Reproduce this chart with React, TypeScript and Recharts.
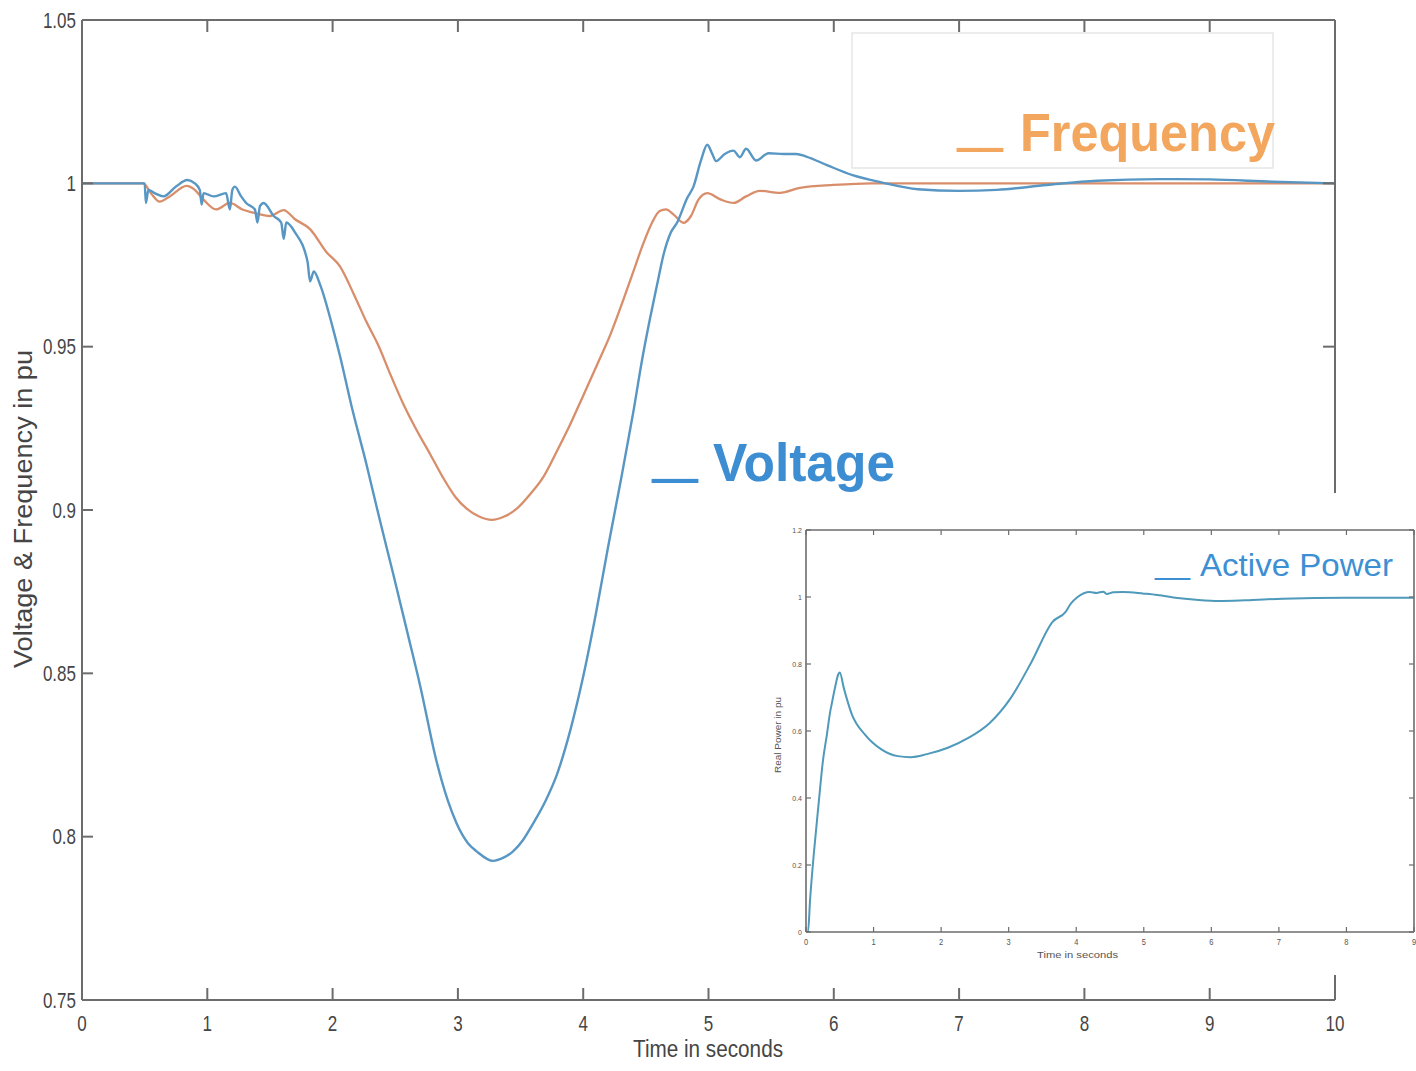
import React from 'react';
import { LineChart, Line, XAxis, YAxis } from 'recharts';

// ---------- data ----------
const voltageTime = [
  0, 0.5, 0.51, 0.53, 0.58, 0.65, 0.75, 0.84, 0.9, 0.94, 0.955, 0.97, 1.05, 1.15, 1.18, 1.2, 1.22, 1.27, 1.31,
  1.38, 1.4, 1.42, 1.45, 1.53, 1.59, 1.61, 1.63, 1.7, 1.8, 1.82, 1.85, 1.9, 2.0, 2.06, 2.15, 2.27, 2.37, 2.48,
  2.6, 2.7, 2.83, 2.92, 2.99, 3.08, 3.15, 3.28, 3.36, 3.44, 3.52, 3.6, 3.7, 3.79, 3.9, 4.0, 4.1, 4.2, 4.3, 4.4,
  4.47, 4.53, 4.59, 4.64, 4.7, 4.75, 4.83, 4.88, 4.94, 4.99, 5.03, 5.06, 5.13, 5.2, 5.25, 5.3, 5.38, 5.48, 5.6,
  5.7, 5.78, 5.95, 6.15, 6.38, 6.67, 7.0, 7.3, 7.7, 8.1, 8.6, 9.0, 9.5, 10,
];
const voltageValues = [
  1.0, 1.0, 0.994, 0.998, 0.997, 0.996, 0.999, 1.001, 1.0, 0.998, 0.9935, 0.997, 0.996, 0.997, 0.992, 0.998,
  0.999, 0.996, 0.994, 0.992, 0.988, 0.993, 0.994, 0.99, 0.988, 0.983, 0.988, 0.985, 0.976, 0.97, 0.973, 0.969,
  0.956, 0.947, 0.932, 0.914, 0.898, 0.881, 0.862, 0.846, 0.823, 0.811, 0.804, 0.798, 0.7955, 0.7926, 0.7935,
  0.7955, 0.799, 0.804, 0.811, 0.819, 0.833, 0.849, 0.868, 0.889, 0.909, 0.93, 0.946, 0.958, 0.969, 0.978, 0.985,
  0.988, 0.9955, 0.999, 1.007, 1.0118, 1.009, 1.0068, 1.009, 1.01, 1.008, 1.0106, 1.007, 1.0092, 1.009, 1.009,
  1.0082, 1.0055, 1.0025, 1.0003, 0.9982, 0.9977, 0.998, 0.9995, 1.0008, 1.0013, 1.0012, 1.0005, 1.0,
];

const frequencyTime = [
  0, 0.49, 0.55, 0.62, 0.7, 0.835, 0.9, 0.97, 1.07, 1.18, 1.28, 1.37, 1.5, 1.61, 1.7, 1.82, 1.95, 2.06, 2.17,
  2.27, 2.37, 2.46, 2.57, 2.67, 2.78, 2.88, 2.98, 3.07, 3.17, 3.27, 3.37, 3.47, 3.58, 3.68, 3.79, 3.89, 4.0,
  4.11, 4.22, 4.32, 4.4, 4.48, 4.55, 4.61, 4.66, 4.72, 4.8, 4.86, 4.92, 4.99, 5.1, 5.2, 5.3, 5.41, 5.57, 5.73,
  6.0, 6.3, 7, 10,
];
const frequencyValues = [
  1.0, 1.0, 0.997, 0.9944, 0.996, 0.9992, 0.998, 0.995, 0.992, 0.994, 0.992, 0.991, 0.99, 0.9918, 0.989, 0.986,
  0.979, 0.9745, 0.966, 0.9576, 0.95, 0.9416, 0.932, 0.9245, 0.917, 0.91, 0.904, 0.9004, 0.898, 0.897, 0.898,
  0.9004, 0.905, 0.91, 0.918, 0.9257, 0.935, 0.9444, 0.954, 0.9643, 0.973, 0.9816, 0.988, 0.9915, 0.992, 0.9905,
  0.9879, 0.99, 0.995, 0.997, 0.995, 0.994, 0.996, 0.9977, 0.9971, 0.9986, 0.9995, 1.0, 1.0, 1.0,
];

const powerTime = [
  0, 0.03, 0.06, 0.12, 0.19, 0.25, 0.31, 0.36, 0.38, 0.43, 0.48, 0.5, 0.56, 0.68, 0.87, 1.11, 1.36, 1.55, 1.79,
  2.1, 2.41, 2.72, 3.03, 3.34, 3.65, 3.84, 3.92, 4.02, 4.2, 4.3, 4.4, 4.45, 4.55, 4.7, 5.0, 5.2, 5.5, 5.81, 6.12,
  6.5, 7.06, 8.0, 9.0,
];
const powerValues = [
  0, 0, 0.095, 0.243, 0.39, 0.51, 0.59, 0.66, 0.68, 0.73, 0.77, 0.775, 0.728, 0.649, 0.59, 0.546, 0.525, 0.522,
  0.531, 0.55, 0.58, 0.624, 0.698, 0.807, 0.926, 0.955, 0.98, 1.0, 1.015, 1.012, 1.016, 1.009, 1.014, 1.015,
  1.01, 1.006, 0.997, 0.991, 0.988, 0.99, 0.995, 0.998, 0.998,
];

const mainXTicks = [0, 1, 2, 3, 4, 5, 6, 7, 8, 9, 10];
const mainXTickLabels = ['0', '1', '2', '3', '4', '5', '6', '7', '8', '9', '10'];
const mainYTicks = [0.75, 0.8, 0.85, 0.9, 0.95, 1, 1.05];
const mainYTickLabels = ['0.75', '0.8', '0.85', '0.9', '0.95', '1', '1.05'];

const insetXTicks = [0, 1, 2, 3, 4, 5, 6, 7, 8, 9];
const insetXTickLabels = ['0', '1', '2', '3', '4', '5', '6', '7', '8', '9'];
const insetYTicks = [0, 0.2, 0.4, 0.6, 0.8, 1, 1.2];
const insetYTickLabels = ['0', '0.2', '0.4', '0.6', '0.8', '1', '1.2'];

// ---------- derived rows ----------
const voltageData = voltageTime.map((t, i) => ({ t, v: voltageValues[i] }));
const frequencyData = frequencyTime.map((t, i) => ({ t, v: frequencyValues[i] }));
const powerData = powerTime.map((t, i) => ({ t, v: powerValues[i] }));

// ---------- styles ----------
const AX = '#6c6c6c';
const TXT = '#454545';
const FONT = '"Liberation Sans", Arial, Helvetica, sans-serif';
const VOLT = '#5896c4';
const FREQ = '#d98e6b';
const POWER = '#4f99bb';

function STxt(props: { x: number; y: number; anchor: string; size: number; sy?: number; children: any; fill?: string }) {
  const { x, y, anchor, size, sy = 1.3, children, fill = TXT } = props;
  return (
    <g transform={`translate(${x},${y}) scale(1,${sy})`}>
      <text x={0} y={0} textAnchor={anchor as any} fontSize={size} fill={fill} fontFamily={FONT}>
        {children}
      </text>
    </g>
  );
}

// main ticks (inward)
const MainBottomTick = (p: any) => (
  <g>
    <line x1={p.x} y1={p.y} x2={p.x} y2={p.y - 12} stroke={AX} strokeWidth={2} />
    <STxt x={p.x} y={p.y + 31} anchor="middle" size={17}>
      {mainXTickLabels[p.index]}
    </STxt>
  </g>
);
const MainTopTick = (p: any) => (
  <line x1={p.x} y1={p.y} x2={p.x} y2={p.y + 12} stroke={AX} strokeWidth={2} />
);
const MainLeftTick = (p: any) => (
  <g>
    <line x1={p.x} y1={p.y} x2={p.x + 11} y2={p.y} stroke={AX} strokeWidth={2} />
    <STxt x={p.x - 6} y={p.y + 7.5} anchor="end" size={17}>
      {mainYTickLabels[p.index]}
    </STxt>
  </g>
);
const MainRightTick = (p: any) => (
  <line x1={p.x} y1={p.y} x2={p.x - 12} y2={p.y} stroke={AX} strokeWidth={2} />
);

// inset ticks
const InsetBottomTick = (p: any) => (
  <g>
    <line x1={p.x} y1={p.y} x2={p.x} y2={p.y - 5} stroke={AX} strokeWidth={1.2} />
    <STxt x={p.x} y={p.y + 13} anchor="middle" size={7.5} sy={1.15} fill="#555">
      {insetXTickLabels[p.index]}
    </STxt>
  </g>
);
const InsetTopTick = (p: any) => (
  <line x1={p.x} y1={p.y} x2={p.x} y2={p.y + 5} stroke={AX} strokeWidth={1.2} />
);
const InsetLeftTick = (p: any) => (
  <g>
    <line x1={p.x} y1={p.y} x2={p.x + 5} y2={p.y} stroke={AX} strokeWidth={1.2} />
    <STxt x={p.x - 4} y={p.y + 3} anchor="end" size={7} sy={1.1} fill="#555">
      {insetYTickLabels[p.index]}
    </STxt>
  </g>
);
const InsetRightTick = (p: any) => (
  <line x1={p.x} y1={p.y} x2={p.x - 5} y2={p.y} stroke={AX} strokeWidth={1.2} />
);

export default function App() {
  return (
    <div style={{ position: 'absolute', left: 0, top: 0, width: 1416, height: 1071, background: '#fff', overflow: 'hidden' }}>
      {/* main chart */}
      <div style={{ position: 'absolute', left: 0, top: 0 }}>
        <LineChart width={1416} height={1071} margin={{ top: 19, right: 80, bottom: 21, left: 22 }}>
          <XAxis
            dataKey="t"
            type="number"
            domain={[0, 10]}
            ticks={mainXTicks}
            interval={0}
            height={50}
            tickSize={0}
            tickMargin={0}
            tickLine={false}
            axisLine={{ stroke: AX, strokeWidth: 2 }}
            tick={MainBottomTick}
            allowDataOverflow
          />
          <XAxis
            xAxisId="top"
            orientation="top"
            dataKey="t"
            type="number"
            domain={[0, 10]}
            ticks={mainXTicks}
            interval={0}
            height={1}
            tickSize={0}
            tickMargin={0}
            tickLine={false}
            axisLine={{ stroke: AX, strokeWidth: 2 }}
            tick={MainTopTick}
            allowDataOverflow
          />
          <YAxis
            type="number"
            domain={[0.75, 1.05]}
            ticks={mainYTicks}
            interval={0}
            width={60}
            tickSize={0}
            tickMargin={0}
            tickLine={false}
            axisLine={{ stroke: AX, strokeWidth: 2 }}
            tick={MainLeftTick}
            allowDataOverflow
          />
          <YAxis
            yAxisId="right"
            orientation="right"
            type="number"
            domain={[0.75, 1.05]}
            ticks={mainYTicks}
            interval={0}
            width={1}
            tickSize={0}
            tickMargin={0}
            tickLine={false}
            axisLine={{ stroke: AX, strokeWidth: 2 }}
            tick={MainRightTick}
            allowDataOverflow
          />
          <Line
            data={frequencyData}
            dataKey="v"
            type="monotone"
            stroke={FREQ}
            strokeWidth={2.3}
            dot={false}
            isAnimationActive={false}
          />
          <Line
            data={voltageData}
            dataKey="v"
            type="monotone"
            stroke={VOLT}
            strokeWidth={2.4}
            dot={false}
            isAnimationActive={false}
          />
        </LineChart>
      </div>

      {/* inset chart */}
      <div style={{ position: 'absolute', left: 770, top: 493, width: 646, height: 482, background: '#fff' }}>
        <LineChart width={646} height={482} margin={{ top: 36, right: 1, bottom: 13, left: 6 }}>
          <XAxis
            dataKey="t"
            type="number"
            domain={[0, 9]}
            ticks={insetXTicks}
            interval={0}
            height={30}
            tickSize={0}
            tickMargin={0}
            tickLine={false}
            axisLine={{ stroke: AX, strokeWidth: 1.6 }}
            tick={InsetBottomTick}
            allowDataOverflow
          />
          <XAxis
            xAxisId="top"
            orientation="top"
            dataKey="t"
            type="number"
            domain={[0, 9]}
            ticks={insetXTicks}
            interval={0}
            height={1}
            tickSize={0}
            tickMargin={0}
            tickLine={false}
            axisLine={{ stroke: AX, strokeWidth: 1.6 }}
            tick={InsetTopTick}
            allowDataOverflow
          />
          <YAxis
            type="number"
            domain={[0, 1.2]}
            ticks={insetYTicks}
            interval={0}
            width={30}
            tickSize={0}
            tickMargin={0}
            tickLine={false}
            axisLine={{ stroke: AX, strokeWidth: 1.6 }}
            tick={InsetLeftTick}
            allowDataOverflow
          />
          <YAxis
            yAxisId="right"
            orientation="right"
            type="number"
            domain={[0, 1.2]}
            ticks={insetYTicks}
            interval={0}
            width={1}
            tickSize={0}
            tickMargin={0}
            tickLine={false}
            axisLine={{ stroke: AX, strokeWidth: 1.6 }}
            tick={InsetRightTick}
            allowDataOverflow
          />
          <Line
            data={powerData}
            dataKey="v"
            type="monotone"
            stroke={POWER}
            strokeWidth={2}
            dot={false}
            isAnimationActive={false}
          />
        </LineChart>
      </div>

      {/* text overlay */}
      <svg
        width={1416}
        height={1071}
        style={{ position: 'absolute', left: 0, top: 0, pointerEvents: 'none' }}
      >
        {/* legend frame for frequency */}
        <rect x={852} y={33} width={421} height={135} fill="none" stroke="#e6e6e6" strokeWidth={1.5} />
        <g transform="translate(957,139) scale(1,2)">
          <text x={0} y={0} fontSize={54} fontWeight="bold" fill="#f2a65e" fontFamily={FONT} textLength={46} lengthAdjust="spacingAndGlyphs">
            __
          </text>
        </g>
        <text x={1020} y={151} fontSize={54} fontWeight="bold" fill="#f2a65e" fontFamily={FONT} textLength={255} lengthAdjust="spacingAndGlyphs">
          Frequency
        </text>

        <g transform="translate(652,470) scale(1,2)">
          <text x={0} y={0} fontSize={54} fontWeight="bold" fill="#3c8dd2" fontFamily={FONT} textLength={46} lengthAdjust="spacingAndGlyphs">
            __
          </text>
        </g>
        <text x={713} y={481} fontSize={54} fontWeight="bold" fill="#3c8dd2" fontFamily={FONT} textLength={182} lengthAdjust="spacingAndGlyphs">
          Voltage
        </text>

        <text x={1155} y={574} fontSize={32} fill="#3d8fd4" fontFamily={FONT} textLength={35} lengthAdjust="spacingAndGlyphs">
          __
        </text>
        <text x={1200} y={576} fontSize={32} fill="#3d8fd4" fontFamily={FONT} textLength={193} lengthAdjust="spacingAndGlyphs">
          Active Power
        </text>

        {/* main axis titles */}
        <text
          transform="translate(32,509) rotate(-90)"
          textAnchor="middle"
          fontSize={25}
          fill={TXT}
          fontFamily={FONT}
          textLength={318}
          lengthAdjust="spacingAndGlyphs"
        >
          Voltage &amp; Frequency in pu
        </text>
        <text x={633} y={1057} fontSize={23} fill={TXT} fontFamily={FONT} textLength={150} lengthAdjust="spacingAndGlyphs">
          Time in seconds
        </text>

        {/* inset axis titles */}
        <text
          transform="translate(781,735) rotate(-90)"
          textAnchor="middle"
          fontSize={8.5}
          fill="#555"
          fontFamily={FONT}
          textLength={76}
          lengthAdjust="spacingAndGlyphs"
        >
          Real Power in pu
        </text>
        <text x={1037} y={958} fontSize={9.5} fill="#555" fontFamily={FONT} textLength={81} lengthAdjust="spacingAndGlyphs">
          Time in seconds
        </text>
      </svg>
    </div>
  );
}
